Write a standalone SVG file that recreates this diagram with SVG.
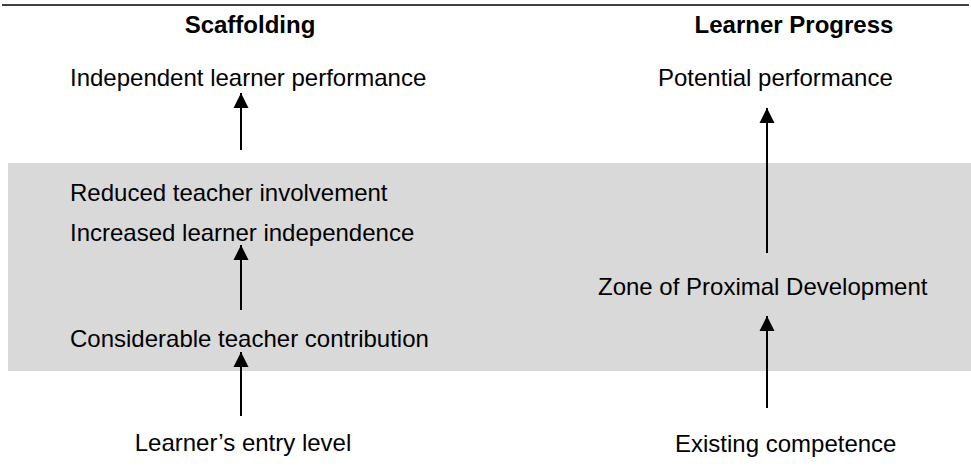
<svg xmlns="http://www.w3.org/2000/svg" width="971" height="472" viewBox="0 0 971 472">
<style>
.t{font-family:"Liberation Sans",Arial,sans-serif;font-size:24px;fill:#000}
.h{font-family:"Liberation Sans",Arial,sans-serif;font-size:24px;font-weight:bold;fill:#000}
.c{stroke:#000;stroke-width:2;fill:none;marker-end:url(#ah)}
</style>
<defs>
<marker id="ah" markerUnits="userSpaceOnUse" markerWidth="16" markerHeight="16" refX="15" refY="8" orient="auto" viewBox="0 0 16 16">
<path d="M0,0.5 L15,8 L0,15.5 z" fill="#000"/>
</marker>
</defs>
<rect x="0" y="0" width="971" height="472" fill="#fff"/>
<line x1="2" y1="5" x2="969" y2="5" stroke="#000" stroke-width="1.5"/>
<rect id="zone-band" x="8" y="163" width="963" height="208" fill="#d9d9d9"/>
<g id="scaffolding-title"><text class="h" x="250" y="33" text-anchor="middle">Scaffolding</text></g>
<g id="learner-progress-title"><text class="h" x="794" y="33" text-anchor="middle">Learner Progress</text></g>
<g id="independent"><text class="t" x="70" y="86">Independent learner performance</text></g>
<g id="reduced"><text class="t" x="70" y="201">Reduced teacher involvement</text></g>
<g id="increased"><text class="t" x="70" y="241">Increased learner independence</text></g>
<g id="considerable"><text class="t" x="70" y="347">Considerable teacher contribution</text></g>
<g id="entry"><text class="t" x="243" y="451" text-anchor="middle">Learner’s entry level</text></g>
<g id="potential"><text class="t" x="658" y="86">Potential performance</text></g>
<g id="zpd"><text class="t" x="598" y="295">Zone of Proximal Development</text></g>
<g id="existing"><text class="t" x="675" y="452">Existing competence</text></g>
<g id="connectors">
<line class="c" x1="241" y1="150" x2="241" y2="93"/>
<line class="c" x1="241" y1="310" x2="241" y2="245"/>
<line class="c" x1="241" y1="416" x2="241" y2="352"/>
<line class="c" x1="767" y1="253" x2="767" y2="108"/>
<line class="c" x1="767" y1="408" x2="767" y2="316"/>
</g>
</svg>
